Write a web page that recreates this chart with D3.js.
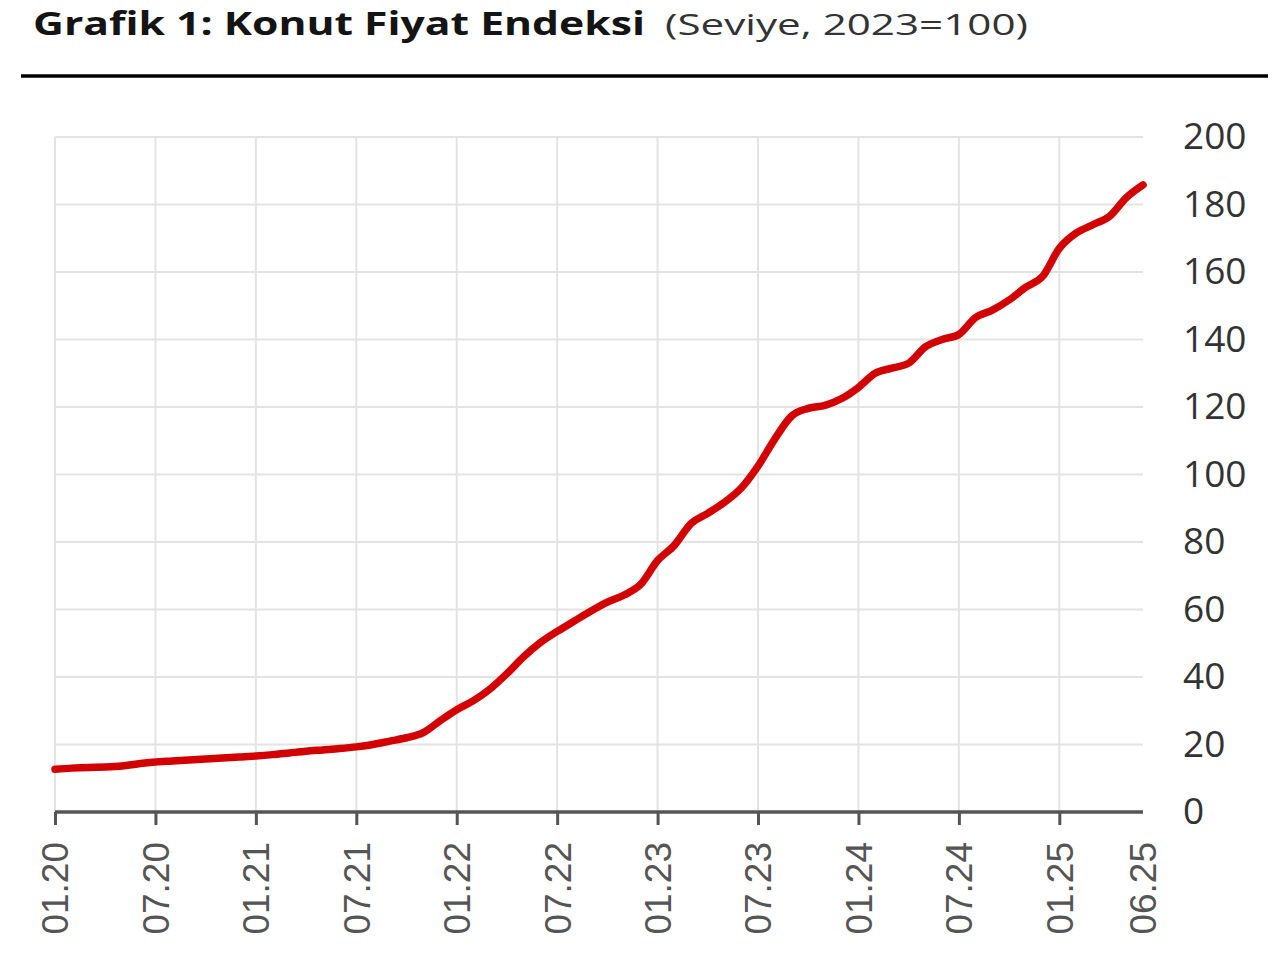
<!DOCTYPE html>
<html lang="tr">
<head>
  <meta charset="UTF-8" />
  <title>Konut Fiyat Endeksi</title>
  <script src="https://d3js.org/d3.v7.min.js"></script>
  <style>
    body {
      margin: 0;
      background: #ffffff;
    }

    .title-bold {
      font-family: 'Open Sans', sans-serif;
      font-weight: bold;
      font-size: 33px;
      fill: #141414;
    }

    .title-normal {
      font-family: 'Open Sans', sans-serif;
      font-size: 30px;
      fill: #333333;
    }

    .y-axis text {
      font-family: 'Open Sans', sans-serif;
      font-size: 37px;
      fill: #333333;
    }

    .x-axis text {
      font-family: 'Liberation Sans', Arial, sans-serif;
      font-size: 37px;
      fill: #555555;
    }

    .grid line {
      stroke: #e3e3e3;
      stroke-width: 2;
    }
  </style>
</head>
<body>
  <div id="chart"></div>

  <script>
    // monthly index, 01.2020 .. 06.2025 (2023=100)
    const months = [
      "01.20","02.20","03.20","04.20","05.20","06.20","07.20","08.20","09.20","10.20","11.20","12.20",
      "01.21","02.21","03.21","04.21","05.21","06.21","07.21","08.21","09.21","10.21","11.21","12.21",
      "01.22","02.22","03.22","04.22","05.22","06.22","07.22","08.22","09.22","10.22","11.22","12.22",
      "01.23","02.23","03.23","04.23","05.23","06.23","07.23","08.23","09.23","10.23","11.23","12.23",
      "01.24","02.24","03.24","04.24","05.24","06.24","07.24","08.24","09.24","10.24","11.24","12.24",
      "01.25","02.25","03.25","04.25","05.25","06.25"
    ];
    const values = [
      12.7, 13.0, 13.2, 13.3, 13.6, 14.3, 14.8, 15.1, 15.4, 15.7, 16.0, 16.3,
      16.6, 17.0, 17.5, 18.0, 18.4, 18.8, 19.3, 20.0, 21.0, 22.0, 23.5, 27.0,
      30.3, 33.0, 36.5, 41.0, 46.0, 50.2, 53.5, 56.5, 59.5, 62.2, 64.3, 67.5,
      74.5, 79.0, 85.5, 88.5, 91.8, 96.0, 102.5, 110.5, 117.3, 119.6, 120.5, 122.5,
      125.8, 130.0, 131.5, 133.0, 137.8, 140.0, 141.5, 146.5, 148.7, 151.7, 155.5, 158.7,
      167.0, 171.5, 174.0, 176.5, 182.0, 185.8
    ];
    const xTickLabels = ["01.20","07.20","01.21","07.21","01.22","07.22","01.23","07.23","01.24","07.24","01.25","06.25"];
    const yTicks = [0, 20, 40, 60, 80, 100, 120, 140, 160, 180, 200];

    const width = 1280;
    const height = 953;
    const plotLeft = 55, plotRight = 1143, plotTop = 137, plotBottom = 812;

    const svg = d3.select("#chart").append("svg")
      .attr("width", width)
      .attr("height", height);

    // title
    svg.append("text")
      .attr("class", "title-bold")
      .attr("x", 33)
      .attr("y", 35)
      .attr("textLength", 612)
      .attr("lengthAdjust", "spacingAndGlyphs")
      .text("Grafik 1: Konut Fiyat Endeksi");

    svg.append("text")
      .attr("class", "title-normal")
      .attr("x", 665)
      .attr("y", 35)
      .attr("textLength", 363)
      .attr("lengthAdjust", "spacingAndGlyphs")
      .text("(Seviye, 2023=100)");

    svg.append("line")
      .attr("x1", 21).attr("x2", 1268)
      .attr("y1", 76).attr("y2", 76)
      .attr("stroke", "#000")
      .attr("stroke-width", 3.5);

    const x = d3.scaleLinear()
      .domain([0, months.length - 1])
      .range([plotLeft, plotRight]);

    const y = d3.scaleLinear()
      .domain([0, 200])
      .range([plotBottom, plotTop]);

    const tickIdx = xTickLabels.map(l => months.indexOf(l));
    const isMajor = i => months[i].startsWith("01") || months[i].startsWith("07");

    // grid
    const grid = svg.append("g").attr("class", "grid");
    grid.selectAll(".h")
      .data(yTicks.filter(d => d > 0))
      .enter().append("line")
      .attr("x1", plotLeft).attr("x2", plotRight)
      .attr("y1", d => y(d)).attr("y2", d => y(d));
    grid.selectAll(".v")
      .data(tickIdx.filter(isMajor))
      .enter().append("line")
      .attr("x1", d => x(d)).attr("x2", d => x(d))
      .attr("y1", plotTop).attr("y2", plotBottom);

    // y axis (labels on the right)
    const yAxis = svg.append("g")
      .attr("class", "y-axis")
      .attr("transform", "translate(1183,0)")
      .call(d3.axisRight(y).tickValues(yTicks).tickSize(0).tickPadding(0));
    yAxis.select(".domain").remove();

    // x axis
    const xAxis = svg.append("g")
      .attr("class", "x-axis")
      .attr("transform", `translate(0,${plotBottom})`)
      .call(d3.axisBottom(x)
        .tickValues(tickIdx)
        .tickSize(13)
        .tickFormat(i => months[i]));

    xAxis.select(".domain")
      .attr("stroke", "#555")
      .attr("stroke-width", 3.5)
      .attr("d", `M${plotLeft},0H${plotRight}`);

    xAxis.selectAll(".tick line")
      .attr("stroke", "#555")
      .attr("stroke-width", 3)
      .filter(i => !isMajor(i))
      .remove();

    xAxis.selectAll(".tick text")
      .attr("transform", "rotate(-90)")
      .attr("text-anchor", "end")
      .attr("x", -30)
      .attr("y", 0)
      .attr("dy", "0.35em");

    // line
    const line = d3.line()
      .x((d, i) => x(i))
      .y(d => y(d))
      .curve(d3.curveMonotoneX);

    svg.append("path")
      .datum(values)
      .attr("fill", "none")
      .attr("stroke", "#d20000")
      .attr("stroke-width", 7.5)
      .attr("stroke-linejoin", "round")
      .attr("stroke-linecap", "round")
      .attr("d", line);
  </script>
</body>
</html>
